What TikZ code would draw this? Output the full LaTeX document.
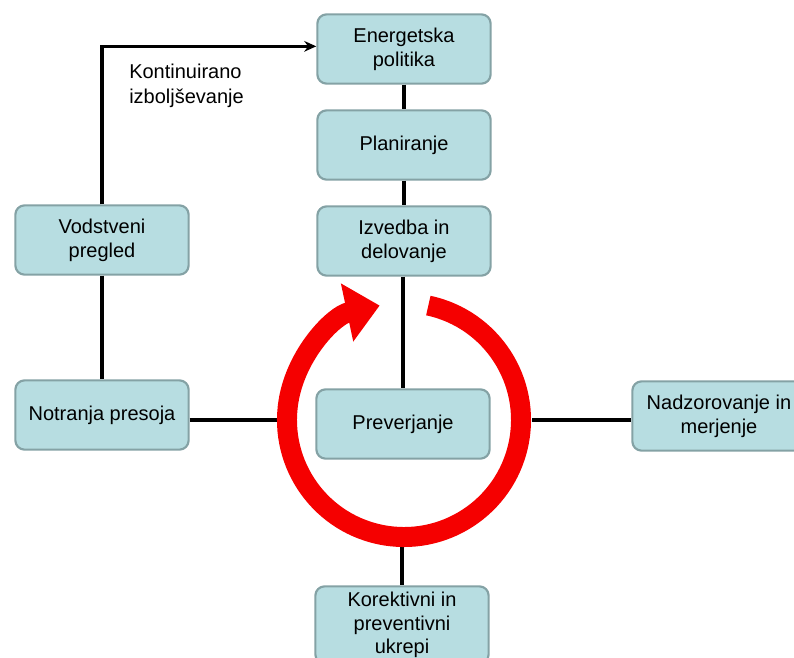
\documentclass[tikz,border=0pt]{standalone}
\usepackage{fontspec}
\setmainfont{Liberation Sans}
\usetikzlibrary{arrows.meta,calc}
\definecolor{boxfill}{RGB}{183,221,225}
\definecolor{boxline}{RGB}{132,162,165}
\definecolor{ringred}{RGB}{245,0,0}

\begin{document}
\begin{tikzpicture}[x=0.75pt,y=-0.75pt,
		stepbox/.style={draw=boxline,fill=boxfill,line width=1.6pt,rounded corners=7pt,
			minimum width=130pt,minimum height=52pt,align=center,
			font=\fontsize{15}{18}\selectfont},
		link/.style={line width=2.3pt,black}]
				\useasboundingbox (0,0) rectangle (794,658);
				
				\node[stepbox] (politika) at (404,49) {Energetska\\politika};
				\node[stepbox] (plan) at (404,145) {Planiranje};
				\node[stepbox] (izvedba) at (404,241) {Izvedba in\\delovanje};
				\node[stepbox] (prever) at (403,424) {Preverjanje};
				\node[stepbox] (pregled) at (102,240) {Vodstveni\\pregled};
				\node[stepbox] (presoja) at (102,415) {Notranja presoja};
				\node[stepbox] (nadzor) at (719,416) {Nadzorovanje in\\merjenje};
				\node[stepbox,minimum height=58pt,inner sep=2pt,font=\fontsize{15}{17.5}\selectfont] (ukrepi) at (402,625) {Korektivni in\\preventivni\\ukrepi};
				
				\coordinate (ringC) at (404,420);
				\coordinate (ringW) at (277,420);
				\coordinate (ringE) at (532,420);
				\coordinate (ringS) at (404,547);
				
				\draw[link] (politika) -- (plan);
				\draw[link] (plan) -- (izvedba);
				\draw[link] (izvedba.south -| prever.north) -- (prever.north);
				\draw[link] (pregled) -- (presoja);
				\draw[link] (ringW -| presoja.east) -- (ringW);
				\draw[link] (ringE) -- (ringE -| nadzor.west);
				\draw[link] (ringS -| ukrepi.north) -- (ukrepi.north);
				\draw[link,-{Stealth[length=9pt,width=8pt]}] (pregled.north) |- ([yshift=2pt]politika.west);
				
				\node[anchor=north west,inner sep=0pt,align=left,font=\fontsize{15}{18.5}\selectfont] (kont) at (129,64) {Kontinuirano\\izboljševanje};
				
				% krog
				\draw[ringred,line width=15pt,-{Triangle[length=25pt,width=43pt]}]
					($(ringC)+(78:87.75pt)$) arc[start angle=78,end angle=-258,radius=87.75pt];
\end{tikzpicture}
\end{document}
